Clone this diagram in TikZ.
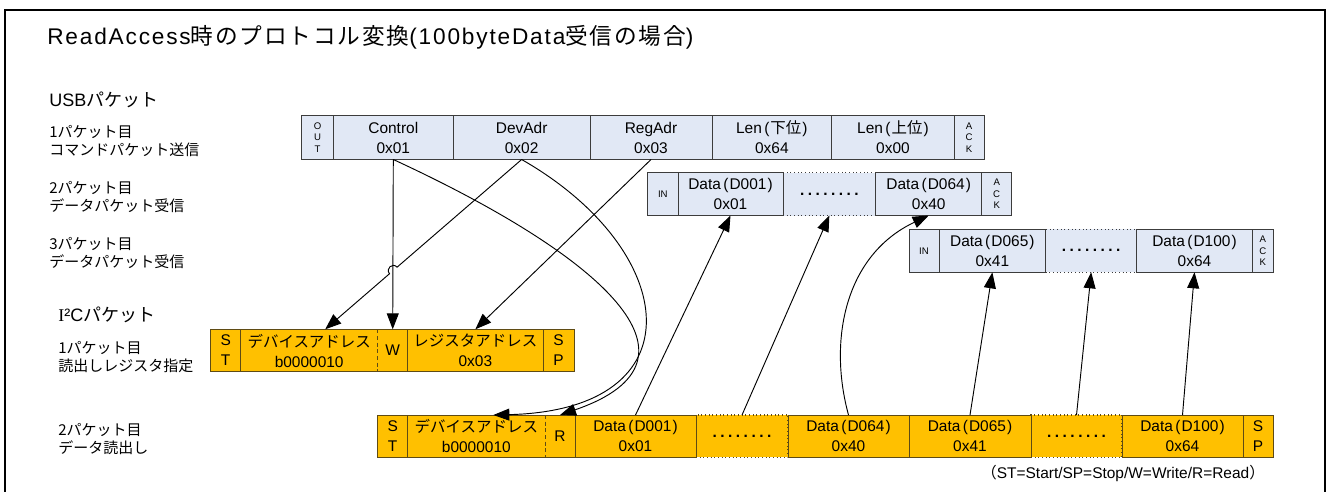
\documentclass[tikz,border=0pt]{standalone}
\usepackage{fontspec}
\setmainfont{Liberation Sans}
\newfontfamily\jpf{Noto Sans CJK JP}
\newfontfamily\ttl[LetterSpace=8]{Liberation Sans}
\newfontfamily\ttljp[LetterSpace=8]{Noto Sans CJK JP}
\newfontfamily\lserif{Liberation Serif}
\usetikzlibrary{arrows.meta,fit,calc}
\definecolor{usbfill}{RGB}{225,232,245}
\definecolor{usbline}{RGB}{60,60,60}
\definecolor{i2cfill}{RGB}{255,192,0}
\definecolor{i2cline}{RGB}{95,75,20}
\newcommand\fsz[2]{\fontsize{#1}{#2}\selectfont}
\newcommand\pcell[7]{%
  \node[#6,fit={(#2,#4) (#3,#5)}] (#1) {};
  \node[#6, draw=none, fill=none, anchor=center] (#1t) at (#1.center) {#7};}
\newcommand\LP{\kern1.8pt(\kern0.8pt}
\newcommand\RP{\kern0.8pt)}
\newcommand\dts{\textbf{.\kern2.6pt.\kern2.6pt.\kern2.6pt.\kern2.6pt.\kern2.6pt.\kern2.6pt.\kern2.6pt.}}
\tikzset{
 cellbase/.style={inner sep=0pt, outer sep=0pt, line width=0.75pt, align=center, text=black},
 usb/.style={cellbase, draw=usbline, fill=usbfill, font=\fsz{11.6}{15}},
 usbdot/.style={usb, dotted, line width=0.9pt},
 usbsm/.style={usb, font=\fsz{7.2}{8.6}},
 i2c/.style={cellbase, draw=i2cline, fill=i2cfill, font=\fsz{11.6}{15}},
 i2cdot/.style={i2c, dotted, line width=0.9pt},
 i2cnb/.style={cellbase, fill=i2cfill, font=\fsz{11.6}{15}},
 i2cedge/.style={draw=i2cline, line width=0.75pt},
 arr/.style={draw=black, line width=0.7pt, -{Triangle[length=12pt,width=9pt]}},
 lbl/.style={anchor=west, align=left, inner sep=0pt, font=\jpf\fsz{11.25}{14}},
 sec/.style={anchor=west, inner sep=0pt, font=\fsz{13.5}{16}},
}
\begin{document}
\begin{tikzpicture}[x=0.75pt,y=-0.75pt]
\useasboundingbox (0,0) rectangle (1327,492);
\draw[line width=1.5pt] (5,10) rectangle (1325,495);
% title and labels
\node[anchor=west, inner sep=0pt, font=\fsz{17}{20}] (title) at (47,37)
 {{\ttl ReadAccess}{\ttljp 時のプロトコル変換}{\ttl (100byteData}{\ttljp 受信の場合}{\ttl )}};
\node[sec] (usbl) at (49,100) {USB{\jpf パケット}};
\node[lbl] (l1) at (49,141) {1パケット目\\コマンドパケット送信};
\node[lbl] (l2) at (49,197) {2パケット目\\データパケット受信};
\node[lbl] (l3) at (49,253) {3パケット目\\データパケット受信};
\node[sec] (i2cl) at (58,315) {{\lserif I}²C{\jpf パケット}};
\node[lbl] (l4) at (58,357) {1パケット目\\読出しレジスタ指定};
\node[lbl] (l5) at (58,439) {2パケット目\\データ読出し};
\node[anchor=east, inner sep=0pt, font=\fsz{11.6}{13}] (note) at (1265,473)
 {{\jpf （}ST=Start/SP=Stop/W=Write/R=Read{\jpf ）}};
% USB packet 1
\pcell{out}{301.7}{333.3}{115.5}{159.5}{usbsm}{O\\U\\T}
\pcell{ctrl}{333.3}{453.3}{115.5}{159.5}{usb}{Control\\0x01}
\pcell{devadr}{453.3}{590}{115.5}{159.5}{usb}{DevAdr\\0x02}
\pcell{regadr}{590}{712}{115.5}{159.5}{usb}{RegAdr\\0x03}
\pcell{lenl}{712}{831.7}{115.5}{159.5}{usb}{Len\LP{\jpf 下位}\RP\\0x64}
\pcell{lenh}{831.7}{954.3}{115.5}{159.5}{usb}{Len\LP{\jpf 上位}\RP\\0x00}
\pcell{ack1}{954.3}{984}{115.5}{159.5}{usbsm}{A\\C\\K}
% USB packet 2
\pcell{dots2u}{783}{875.7}{172.7}{215.5}{usbdot}{\dts}
\pcell{in2}{647.7}{678}{172.7}{215.5}{usbsm}{IN}
\pcell{d001u}{678}{783}{172.7}{215.5}{usb}{Data\LP D001\RP\\0x01}
\pcell{d064u}{875.7}{981.7}{172.7}{215.5}{usb}{Data\LP D064\RP\\0x40}
\pcell{ack2}{981.7}{1011.7}{172.7}{215.5}{usbsm}{A\\C\\K}
% USB packet 3
\pcell{dots3u}{1045.7}{1136.7}{229.3}{272.3}{usbdot}{\dts}
\pcell{in3}{909}{939}{229.3}{272.3}{usbsm}{IN}
\pcell{d065u}{939}{1045.7}{229.3}{272.3}{usb}{Data\LP D065\RP\\0x41}
\pcell{d100u}{1136.7}{1252.3}{229.3}{272.3}{usb}{Data\LP D100\RP\\0x64}
\pcell{ack3}{1252.3}{1273.3}{229.3}{272.3}{usbsm}{A\\C\\K}
% I2C packet 1
\pcell{dev1}{240.7}{377.7}{329.3}{371.7}{i2cnb}{{\jpf デバイスアドレス}\\b0000010}
\pcell{w1}{377.7}{407.7}{329.3}{371.7}{i2cnb}{W}
\pcell{st1}{210.7}{240.7}{329.3}{371.7}{i2c}{S\\T}
\pcell{reg1}{407.7}{543}{329.3}{371.7}{i2c}{{\jpf レジスタアドレス}\\0x03}
\pcell{sp1}{543}{574}{329.3}{371.7}{i2c}{S\\P}
\draw[i2cedge] (dev1.north west) -- (w1.north east);
\draw[i2cedge] (dev1.south west) -- (w1.south east);
\draw[i2cedge, dash pattern=on 3pt off 2pt] (dev1.north east) -- (dev1.south east);
% I2C packet 2
\pcell{dots2b}{696}{788}{415}{457.3}{i2cdot}{\dts}
\pcell{dots3b}{1031}{1122}{415}{457.3}{i2cdot}{\dts}
\pcell{dev2}{407.7}{545}{415}{457.3}{i2cnb}{{\jpf デバイスアドレス}\\b0000010}
\pcell{r2}{545}{575}{415}{457.3}{i2cnb}{R}
\pcell{st2}{377.7}{407.7}{415}{457.3}{i2c}{S\\T}
\pcell{d001b}{575}{696}{415}{457.3}{i2c}{Data\LP D001\RP\\0x01}
\pcell{d064b}{788}{909}{415}{457.3}{i2c}{Data\LP D064\RP\\0x40}
\pcell{d065b}{909}{1031}{415}{457.3}{i2c}{Data\LP D065\RP\\0x41}
\pcell{d100b}{1122}{1243}{415}{457.3}{i2c}{Data\LP D100\RP\\0x64}
\pcell{sp2}{1243}{1273}{415}{457.3}{i2c}{S\\P}
\draw[i2cedge] (dev2.north west) -- (r2.north east);
\draw[i2cedge] (dev2.south west) -- (r2.south east);
\draw[i2cedge, dash pattern=on 3pt off 2pt] (dev2.north east) -- (dev2.south east);
% connectors USB -> I2C
\coordinate (dev1tip) at ([xshift=12pt]dev1.north);
\coordinate (dev2tip) at ([xshift=12.75pt]dev2.north);
\coordinate (hopA) at (397.08,267.18);
\coordinate (hopB) at (389.52,273.72);
\draw[arr] (ctrl.south) -- (w1.north);
\draw[arr] (ctrl.south) .. controls (600,255) and (720,360) .. (r2.north);
\draw[arr] (devadr.south) -- (hopA) .. controls (392.72,262.13) and (385.16,268.67) .. (hopB) -- (dev1tip);
\draw[arr] (devadr.south) .. controls (680,250) and (700,410) .. (dev2tip);
\draw[arr] (regadr.south) -- (reg1.north);
% connectors I2C -> USB
\draw[arr] (d001b.north) -- (d001u.south);
\draw[arr] (dots2b.north) -- (dots2u.south);
\draw[arr] (d064b.north) .. controls (828,340) and (845,255) .. (d064u.south);
\draw[arr] (d065b.north) -- (d065u.south);
\draw[arr] (dots3b.north) -- (dots3u.south);
\draw[arr] (d100b.north) -- (d100u.south);
\end{tikzpicture}
\end{document}
